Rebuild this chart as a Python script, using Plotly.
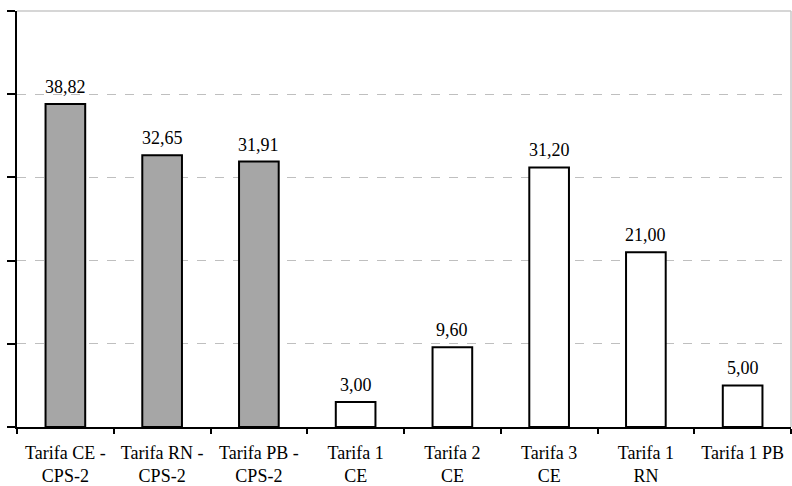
import plotly.graph_objects as go

# Tariff categories and values
categories = [
    "Tarifa CE -<br>CPS-2",
    "Tarifa RN -<br>CPS-2",
    "Tarifa PB -<br>CPS-2",
    "Tarifa 1<br>CE",
    "Tarifa 2<br>CE",
    "Tarifa 3<br>CE",
    "Tarifa 1<br>RN",
    "Tarifa 1 PB",
]
values = [38.82, 32.65, 31.91, 3.00, 9.60, 31.20, 21.00, 5.00]
fill_colors = ["#A6A6A6"] * 3 + ["#FFFFFF"] * 5

font_family = "'Times New Roman', 'Liberation Serif', 'DejaVu Serif', serif"
font_size = 18

fig = go.Figure(
    go.Bar(
        x=categories,
        y=values,
        marker=dict(color=fill_colors, line=dict(color="#000000", width=2)),
        width=0.41,
        cliponaxis=False,
    )
)

# value labels above each bar
for cat, val in zip(categories, values):
    fig.add_annotation(
        x=cat, y=val, text=f"{val:.2f}".replace(".", ","),
        showarrow=False, yanchor="bottom", yshift=5,
        font=dict(family=font_family, size=font_size, color="#000000"),
    )

fig.update_layout(
    width=792,
    height=486,
    margin=dict(l=17, r=1, t=11, b=59),
    paper_bgcolor="white",
    plot_bgcolor="white",
    showlegend=False,
    font=dict(family=font_family, size=font_size, color="#000000"),
    xaxis=dict(
        showline=True,
        linecolor="#000000",
        linewidth=2,
        ticks="outside",
        tickson="boundaries",
        ticklen=5,
        tickwidth=2,
        tickcolor="#000000",
        showgrid=False,
        ticklabelstandoff=8,
        tickfont=dict(family=font_family, size=font_size, color="#000000"),
    ),
    yaxis=dict(
        range=[0, 50],
        dtick=10,
        showticklabels=False,
        showline=True,
        linecolor="#000000",
        linewidth=2,
        ticks="outside",
        ticklen=8,
        tickwidth=2,
        tickcolor="#000000",
        showgrid=True,
        gridcolor="#BFBFBF",
        gridwidth=1,
        griddash="dash",
        zeroline=False,
    ),
    shapes=[
        # light frame along the top and right edges of the plot area
        dict(type="line", xref="paper", yref="paper", x0=0, x1=1, y0=1, y1=1,
             line=dict(color="#C8C8C8", width=1.5)),
        dict(type="line", xref="paper", yref="paper", x0=1, x1=1, y0=0, y1=1,
             line=dict(color="#C8C8C8", width=1.5)),
    ],
)

fig.write_html("out.html")
